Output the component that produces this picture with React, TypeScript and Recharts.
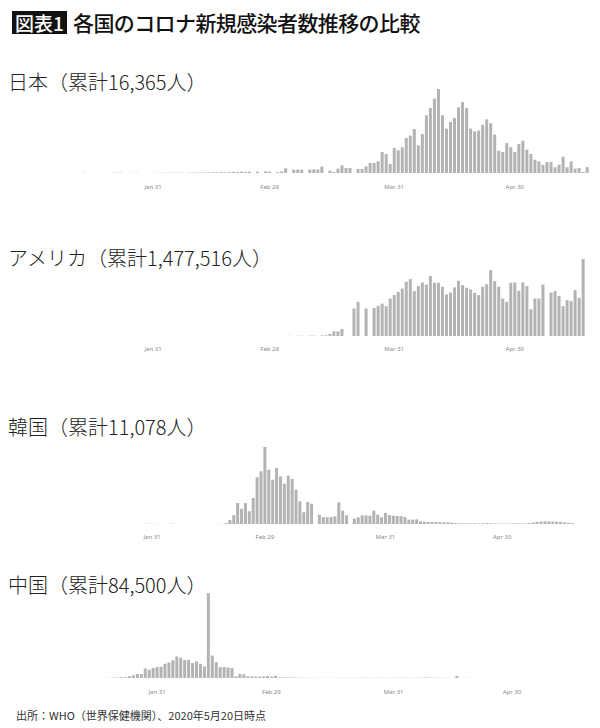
import React from 'react';
import { BarChart, Bar, XAxis, YAxis } from 'recharts';

// Category axis: every day from Jan 11 to May 18 (2020)
const MONTH_SPANS: [string, number, number][] = [
  ['Jan', 11, 31],
  ['Feb', 1, 29],
  ['Mar', 1, 31],
  ['Apr', 1, 30],
  ['May', 1, 18],
];
const DAYS: string[] = MONTH_SPANS.flatMap(([m, a, b]) =>
  Array.from({ length: b - a + 1 }, (_, k) => `${m} ${a + k}`)
);
const TICKS = ['Jan 31', 'Feb 29', 'Mar 31', 'Apr 30'];

// Daily new cases, Jan 11 .. May 18
const JAPAN = [
  0, 0, 0, 2, 0, 0, 0, 0, 0, 0,
  3, 3, 3, 0, 0, 2, 2, 0, 0, 0,
  2, 0, 2, 3, 3, 3, 3, 3, 0, 3,
  3, 4, 4, 4, 5, 6, 6, 7, 5, 8,
  10, 8, 12, 10, 12, 0, 12, 0, 14, 12,
  0, 8, 14, 40, 0, 28, 30, 28, 0, 30,
  32, 30, 55, 0, 20, 10, 37, 66, 43, 43,
  0, 34, 34, 57, 86, 86, 100, 180, 163, 77,
  214, 194, 220, 300, 320, 377, 237, 334, 494, 557,
  637, 720, 494, 380, 437, 471, 563, 608, 557, 380,
  357, 363, 414, 460, 426, 329, 191, 180, 257, 220,
  180, 249, 277, 200, 163, 114, 100, 71, 94, 94,
  49, 71, 140, 49, 100, 37, 43, 9, 51,
];

const USA = [
  0, 0, 0, 0, 0, 0, 0, 0, 0, 0,
  0, 0, 0, 0, 0, 0, 0, 0, 0, 0,
  0, 0, 0, 0, 0, 0, 0, 0, 0, 0,
  0, 0, 0, 0, 0, 0, 0, 0, 0, 0,
  0, 0, 0, 0, 0, 0, 0, 0, 0, 0,
  0, 0, 60, 0, 110, 0, 180, 160, 0, 230,
  250, 0, 350, 500, 1250, 2900, 2900, 4400, 0, 0,
  17100, 21300, 0, 17100, 0, 17500, 18800, 20200, 18600, 23400,
  25500, 27500, 29600, 33800, 35500, 28000, 31100, 33400, 32100, 37400,
  33200, 33200, 30700, 25900, 27100, 30300, 34400, 31700, 30100, 29000,
  26900, 25500, 30700, 32300, 41100, 34200, 30700, 23400, 21300, 33200,
  33400, 28200, 33400, 31100, 16700, 23400, 23400, 32100, 0, 27100,
  28000, 25000, 18600, 22300, 21700, 28600, 23800, 48000, 0,
];

const KOREA = [
  0, 0, 0, 0, 0, 0, 0, 0, 1, 0,
  0, 0, 0, 0, 1, 2, 0, 0, 1, 3,
  3, 1, 1, 0, 1, 4, 2, 1, 0, 1,
  0, 1, 1, 0, 0, 0, 1, 1, 2, 12,
  47, 106, 248, 181, 248, 150, 307, 551, 622, 909,
  641, 523, 661, 563, 476, 571, 531, 405, 268, 138,
  260, 240, 0, 110, 83, 79, 83, 90, 256, 157,
  102, 0, 63, 79, 102, 102, 98, 157, 110, 79,
  130, 106, 98, 94, 94, 83, 51, 51, 55, 31,
  27, 24, 24, 24, 20, 20, 20, 16, 10, 8,
  8, 8, 6, 8, 6, 8, 10, 8, 6, 6,
  4, 6, 4, 6, 8, 6, 6, 10, 18, 25,
  30, 32, 30, 28, 27, 26, 20, 15, 12,
];

const CHINA = [
  0, 0, 0, 0, 0, 0, 0, 30, 20, 60,
  80, 150, 130, 290, 470, 700, 700, 1700, 1470, 1770,
  1940, 1990, 2530, 2770, 3180, 3830, 3590, 3180, 3240, 2650,
  2950, 2530, 2060, 15141, 4000, 2830, 1940, 1940, 1880, 1770,
  290, 700, 650, 290, 290, 240, 240, 290, 350, 240,
  410, 120, 100, 110, 80, 90, 60, 50, 40, 30,
  30, 20, 20, 20, 20, 30, 40, 40, 30, 40,
  40, 40, 60, 50, 40, 40, 50, 40, 40, 40,
  50, 50, 60, 60, 40, 30, 50, 60, 90, 80,
  60, 50, 40, 40, 30, 30, 350, 30, 20, 20,
  20, 10, 10, 10, 10, 10, 10, 10, 10, 10,
  5, 5, 5, 5, 5, 5, 5, 5, 5, 5,
  5, 5, 5, 5, 5, 5, 5, 5, 5,
];

const LABELS = [
  '日本（累計16,365人）',
  'アメリカ（累計1,477,516人）',
  '韓国（累計11,078人）',
  '中国（累計84,500人）',
];

const BAR_COLOR = '#b3b3b3';
const CJK = '"Noto Sans CJK JP", "Noto Sans", sans-serif';

type PanelProps = {
  values: number[];
  max: number;
  plotTop: number;
  baseline: number;
  left: number;
  plotWidth: number;
  tickMargin: number;
};

function Panel({ values, max, plotTop, baseline, left, plotWidth, tickMargin }: PanelProps) {
  const data = DAYS.map((day, i) => ({ day, v: values[i] ?? 0 }));
  const marginTop = 2;
  const axisH = 22;
  const plotH = baseline - plotTop;
  const h = marginTop + plotH + axisH;
  return (
    <div style={{ position: 'absolute', left: 0, top: plotTop - marginTop, width: 600, height: h }}>
      <BarChart
        width={600}
        height={h}
        data={data}
        margin={{ top: marginTop, right: 600 - left - plotWidth, bottom: 0, left }}
        barCategoryGap="12.5%"
      >
        <XAxis
          dataKey="day"
          type="category"
          ticks={TICKS}
          interval={0}
          tickLine={false}
          axisLine={false}
          tickSize={0}
          tickMargin={tickMargin}
          height={axisH}
          tick={{ fontSize: 6, fill: '#888', fontFamily: '"Noto Sans", sans-serif' }}
        />
        <YAxis hide type="number" domain={[0, max]} allowDataOverflow />
        <Bar dataKey="v" fill={BAR_COLOR} isAnimationActive={false} />
      </BarChart>
    </div>
  );
}

function Label({ text, center }: { text: string; center: number }) {
  return (
    <div
      style={{
        position: 'absolute',
        left: 8,
        top: center - 11,
        fontFamily: CJK,
        fontSize: 20,
        lineHeight: '20px',
        fontWeight: 300,
        color: '#222',
        whiteSpace: 'nowrap',
      }}
    >
      {text}
    </div>
  );
}

export default function App() {
  return (
    <div
      style={{
        position: 'absolute',
        left: 0,
        top: 0,
        width: 600,
        height: 728,
        background: '#fff',
        overflow: 'hidden',
      }}
    >
      <div
        style={{
          position: 'absolute',
          left: 12,
          top: 11,
          width: 55,
          height: 23,
          background: '#111',
          color: '#fff',
          fontFamily: CJK,
          fontWeight: 500,
          fontSize: 19,
          lineHeight: '23px',
          textAlign: 'center',
        }}
      >
        図表1
      </div>
      <div
        style={{
          position: 'absolute',
          left: 73,
          top: 11,
          fontFamily: CJK,
          fontWeight: 500,
          fontSize: 21,
          lineHeight: '23px',
          letterSpacing: -0.6,
          color: '#111',
          whiteSpace: 'nowrap',
        }}
      >
        各国のコロナ新規感染者数推移の比較
      </div>

      <Label text={LABELS[0]} center={83} />
      <Panel values={JAPAN} max={720} plotTop={89} baseline={173} left={70.6} plotWidth={518.6} tickMargin={12} />

      <Label text={LABELS[1]} center={259} />
      <Panel values={USA} max={48000} plotTop={259} baseline={336} left={70.6} plotWidth={518.6} tickMargin={11} />

      <Label text={LABELS[2]} center={427.5} />
      <Panel values={KOREA} max={909} plotTop={447} baseline={524} left={72.3} plotWidth={501.8} tickMargin={11} />

      <Label text={LABELS[3]} center={586} />
      <Panel values={CHINA} max={15141} plotTop={593} baseline={678} left={76.2} plotWidth={508.8} tickMargin={12} />

      <div
        style={{
          position: 'absolute',
          left: 16,
          top: 708,
          fontFamily: CJK,
          fontSize: 11,
          lineHeight: '14px',
          color: '#333',
          whiteSpace: 'nowrap',
        }}
      >
        出所：WHO（世界保健機関）、2020年5月20日時点
      </div>
    </div>
  );
}
